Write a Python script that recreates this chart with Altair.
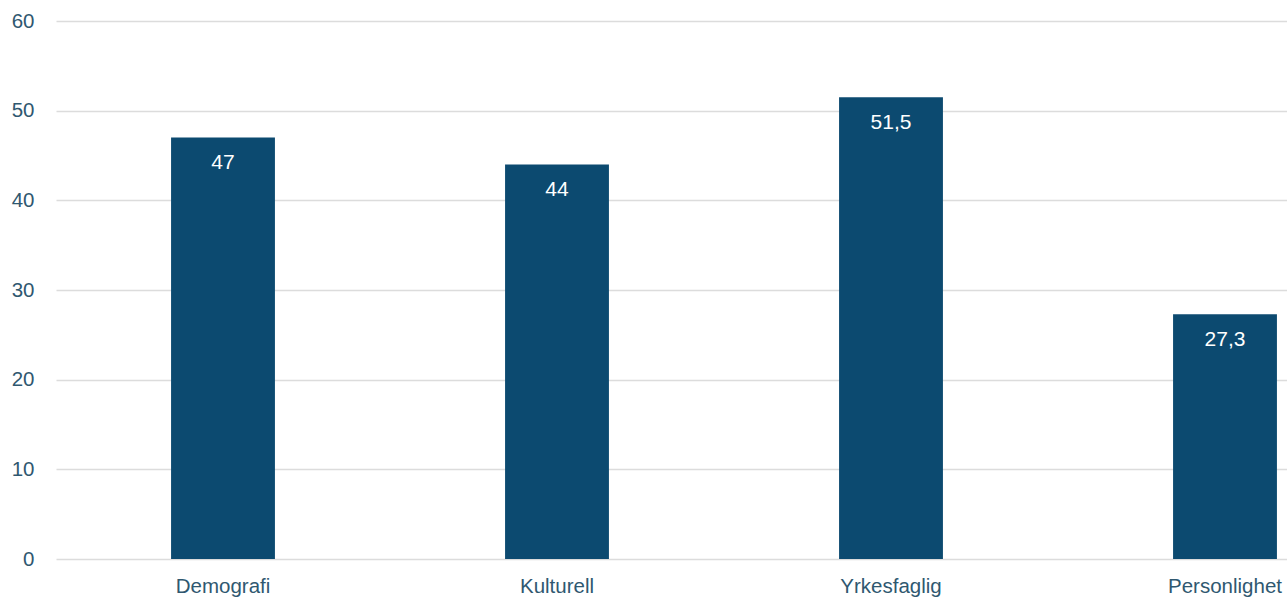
import altair as alt
import pandas as pd

categories = ["Demografi", "Kulturell", "Yrkesfaglig", "Personlighet"]
values = [47, 44, 51.5, 27.3]
labels = ["47", "44", "51,5", "27,3"]

df = pd.DataFrame({"kategori": categories, "verdi": values, "etikett": labels})

FONT = "Liberation Sans"
TXT = "#2f5870"
BAR = "#0c4a70"

x = alt.X(
    "kategori:N",
    sort=categories,
    title=None,
    scale=alt.Scale(range=[0, 1336], paddingInner=0.689, paddingOuter=0.3445),
    axis=alt.Axis(
        domain=False, ticks=False, tickSize=0, grid=False, labelAngle=0,
        labelFont=FONT, labelFontSize=20.5, labelColor=TXT, labelPadding=17,
        labelBaseline="top",
    ),
)
y = alt.Y(
    "verdi:Q",
    title=None,
    scale=alt.Scale(domain=[0, 60], nice=False),
    axis=alt.Axis(
        values=[0, 10, 20, 30, 40, 50, 60], domain=False, ticks=False, tickSize=0,
        gridColor="#dcdcdc", gridWidth=1.5,
        labelFont=FONT, labelFontSize=20.5, labelColor=TXT, labelPadding=22,
    ),
)

bars = alt.Chart(df).mark_bar(color=BAR).encode(x=x, y=y)
text = alt.Chart(df).mark_text(
    color="white", font=FONT, fontSize=21, baseline="middle", dy=25.5
).encode(x=alt.X("kategori:N", sort=categories), y="verdi:Q", text="etikett:N")

chart = (
    alt.layer(bars, text)
    .properties(
        width=1231, height=538,
        padding={"left": 56, "top": 21, "right": 0, "bottom": 49},
        autosize=alt.AutoSizeParams(type="none"),
    )
    .configure_view(stroke=None)
)

chart.save("out.html", embed_options={"renderer": "svg", "actions": False})
